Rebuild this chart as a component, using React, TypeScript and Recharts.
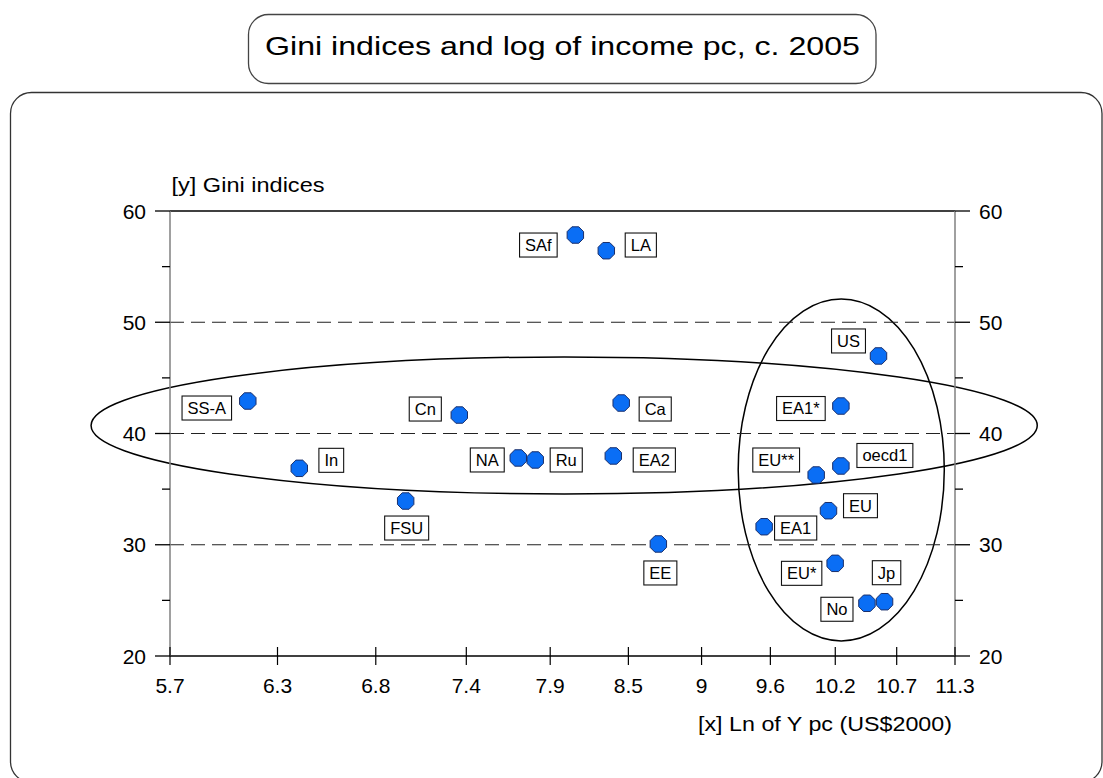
import React from 'react';
import { ScatterChart, Scatter, XAxis, YAxis, ReferenceLine, ReferenceArea } from 'recharts';

// ---------- data ----------
const REGIONS = ['SS-A', 'In', 'FSU', 'Cn', 'NA', 'Ru', 'SAf', 'LA', 'EA2', 'Ca', 'EE', 'EA1', 'EU**', 'oecd1', 'EU', 'EA1*', 'US', 'EU*', 'No', 'Jp'];
const LN_Y_PC = [6.1, 6.38, 7.0, 7.335, 7.722, 7.837, 8.116, 8.338, 8.389, 8.447, 8.725, 9.568, 10.012, 10.23, 10.12, 10.23, 10.571, 10.179, 10.465, 10.627];
const GINI = [42.92, 36.87, 33.93, 41.66, 37.8, 37.62, 57.84, 56.43, 37.98, 42.74, 30.07, 31.62, 36.27, 37.08, 33.06, 42.47, 46.97, 28.33, 24.74, 24.88];

const X_TICKS = [5.7, 6.26, 6.82, 7.38, 7.94, 8.5, 9.06, 9.62, 10.18, 10.74, 11.3];
const X_TICK_LABELS = ['5.7', '6.3', '6.8', '7.4', '7.9', '8.5', '9', '9.6', '10.2', '10.7', '11.3'];
const Y_TICKS = [20, 25, 30, 35, 40, 45, 50, 55, 60];
const Y_MAJOR = [20, 30, 40, 50, 60];
const GRID_Y = [30, 40, 50];

// grouping ellipses (bounding boxes in data units)
const ELLIPSE_X1 = [5.321, 9.354];
const ELLIPSE_X2 = [12.14, 11.195];
const ELLIPSE_Y1 = [34.56, 21.35];
const ELLIPSE_Y2 = [46.88, 52.09];

const TITLE = 'Gini indices and log of income pc, c. 2005';
const Y_TITLE = '[y] Gini indices';
const X_TITLE = '[x] Ln of Y pc (US$2000)';

// ---------- styling ----------
const FONT = '"Liberation Sans", Arial, Helvetica, sans-serif';
const LABEL_OFFSETS: Record<string, [number, number]> = {
  'SS-A': [-41, 7], In: [32, -8], FSU: [1, 27], Cn: [-34, -6], NA: [-31, 2], Ru: [31, 0],
  SAf: [-37, 10], LA: [34.5, -5.7], EA2: [41, 4], Ca: [34, 6], EE: [2, 29], EA1: [31.5, 1.3],
  'EU**': [-40, -15], oecd1: [44, -10.5], EU: [32, -5], 'EA1*': [-40, 2.5], US: [-30, -15],
  'EU*': [-33.5, 10], No: [-30, 6], Jp: [2, -29],
};
const CW: Record<string, number> = {
  A: 667, C: 722, E: 667, F: 611, I: 278, J: 500, L: 556, N: 722, R: 722, S: 667, U: 722,
  a: 556, c: 500, d: 556, e: 556, f: 278, n: 556, o: 556, p: 556, u: 556,
  '-': 333, '*': 389, '1': 556, '2': 556,
};
const textWidth = (s: string, size: number) =>
  s.split('').reduce((w, ch) => w + (CW[ch] ?? 556), 0) * size / 1000;

const data = REGIONS.map((name, i) => ({ name, x: LN_Y_PC[i], y: GINI[i] }));

const Octagon = (props: any) => {
  const { cx, cy } = props;
  if (cx == null || cy == null) return null;
  const r = 8.9;
  const pts = Array.from({ length: 8 }, (_, k) => {
    const a = Math.PI / 8 + (k * Math.PI) / 4;
    return `${cx + r * Math.cos(a)},${cy + r * Math.sin(a)}`;
  }).join(' ');
  return <polygon points={pts} fill="#0a6ef5" stroke="#1b2f6a" strokeWidth={1} />;
};

const BoxLabel = (props: any) => {
  const { cx, cy, payload } = props;
  if (cx == null || cy == null || !payload) return null;
  const name: string = payload.name;
  const [dx, dy] = LABEL_OFFSETS[name] || [30, 0];
  const w = textWidth(name, 16.5) + 11;
  const h = 24;
  const bx = cx + dx;
  const by = cy + dy;
  return (
    <g>
      <rect x={bx - w / 2} y={by - h / 2} width={w} height={h} fill="#fff" stroke="#111" strokeWidth={1.1} />
      <text x={bx} y={by} dy="0.36em" textAnchor="middle" fontSize={16.5} fontFamily={FONT} fill="#000">
        {name}
      </text>
    </g>
  );
};

const LeftTick = (props: any) => {
  const { x, y, payload } = props;
  const v = payload.value;
  const major = Y_MAJOR.includes(v);
  return (
    <g>
      <line x1={x - (major ? 15 : 8)} x2={x} y1={y} y2={y} stroke="#000" strokeWidth={1.3} />
      {major && (
        <text x={x - 24} y={y} dy="0.36em" textAnchor="end" fontSize={21} fontFamily={FONT} fill="#000">
          {v}
        </text>
      )}
    </g>
  );
};

const RightTick = (props: any) => {
  const { x, y, payload } = props;
  const v = payload.value;
  const major = Y_MAJOR.includes(v);
  return (
    <g>
      <line x1={x} x2={x + (major ? 15 : 8)} y1={y} y2={y} stroke="#000" strokeWidth={1.3} />
      {major && (
        <text x={x + 24} y={y} dy="0.36em" textAnchor="start" fontSize={21} fontFamily={FONT} fill="#000">
          {v}
        </text>
      )}
    </g>
  );
};

const BottomTick = (props: any) => {
  const { x, y, payload, index } = props;
  return (
    <g>
      <line x1={x} x2={x} y1={y - 9} y2={y + 9} stroke="#000" strokeWidth={1.2} />
      <text x={x} y={y + 37} textAnchor="middle" fontSize={21} fontFamily={FONT} fill="#000">
        {X_TICK_LABELS[index] ?? String(payload.value)}
      </text>
    </g>
  );
};

const EllipseShape = (props: any) => {
  const { x, y, width, height } = props;
  if ([x, y, width, height].some((v) => v == null || isNaN(v))) return null;
  return (
    <ellipse
      cx={x + width / 2}
      cy={y + height / 2}
      rx={Math.abs(width) / 2}
      ry={Math.abs(height) / 2}
      fill="none"
      stroke="#000"
      strokeWidth={1.5}
    />
  );
};

export default function App() {
  return (
    <div style={{ position: 'absolute', left: 0, top: 0, width: 1103, height: 778, overflow: 'hidden', background: '#fff' }}>
      <svg width={1103} height={778} style={{ position: 'absolute', left: 0, top: 0 }}>
        <rect x={10.5} y={92.5} width={1091.5} height={690} rx={21} fill="none" stroke="#333" strokeWidth={1.3} />
        <rect x={248.5} y={14.5} width={627.5} height={69} rx={20} fill="#fff" stroke="#444" strokeWidth={1.3} />
        <text x={265} y={55} fontSize={25.5} fontFamily={FONT} fill="#000" textLength={595} lengthAdjust="spacingAndGlyphs">
          {TITLE}
        </text>
        <text x={171.5} y={192} fontSize={19.5} fontFamily={FONT} fill="#000" textLength={153} lengthAdjust="spacingAndGlyphs">
          {Y_TITLE}
        </text>
        <text x={698} y={731} fontSize={19.5} fontFamily={FONT} fill="#000" textLength={254} lengthAdjust="spacingAndGlyphs">
          {X_TITLE}
        </text>
      </svg>
      <div style={{ position: 'absolute', left: 0, top: 0 }}>
        <ScatterChart width={1103} height={778} margin={{ top: 211, right: 108, bottom: 92, left: 130 }}>
          <XAxis
            xAxisId="x"
            dataKey="x"
            type="number"
            scale="log"
            domain={[5.7, 11.3]}
            allowDataOverflow
            ticks={X_TICKS}
            interval={0}
            height={30}
            tickSize={0}
            tickMargin={0}
            tickLine={false}
            axisLine={{ stroke: '#000', strokeWidth: 1.3 }}
            tick={<BottomTick />}
          />
          <YAxis
            yAxisId="left"
            dataKey="y"
            type="number"
            domain={[20, 60]}
            allowDataOverflow
            ticks={Y_TICKS}
            interval={0}
            width={40}
            tickSize={0}
            tickMargin={0}
            tickLine={false}
            axisLine={{ stroke: '#808080', strokeWidth: 1.5 }}
            tick={<LeftTick />}
          />
          <YAxis
            yAxisId="right"
            orientation="right"
            type="number"
            domain={[20, 60]}
            allowDataOverflow
            ticks={Y_TICKS}
            interval={0}
            width={40}
            tickSize={0}
            tickMargin={0}
            tickLine={false}
            axisLine={{ stroke: '#808080', strokeWidth: 1.5 }}
            tick={<RightTick />}
          />
          {GRID_Y.map((v) => (
            <ReferenceLine key={v} xAxisId="x" yAxisId="left" y={v} stroke="#222" strokeWidth={1.2} strokeDasharray="14 7" />
          ))}
          <ReferenceLine xAxisId="x" yAxisId="left" y={60} stroke="#000" strokeWidth={1.3} />
          {ELLIPSE_X1.map((x1, i) => (
            <ReferenceArea
              key={i}
              xAxisId="x"
              yAxisId="left"
              x1={x1}
              x2={ELLIPSE_X2[i]}
              y1={ELLIPSE_Y1[i]}
              y2={ELLIPSE_Y2[i]}
              ifOverflow="visible"
              shape={<EllipseShape />}
            />
          ))}
          <Scatter xAxisId="x" yAxisId="left" data={data} shape={<Octagon />} isAnimationActive={false} />
          <Scatter xAxisId="x" yAxisId="left" data={data} shape={<BoxLabel />} isAnimationActive={false} />
        </ScatterChart>
      </div>
    </div>
  );
}
